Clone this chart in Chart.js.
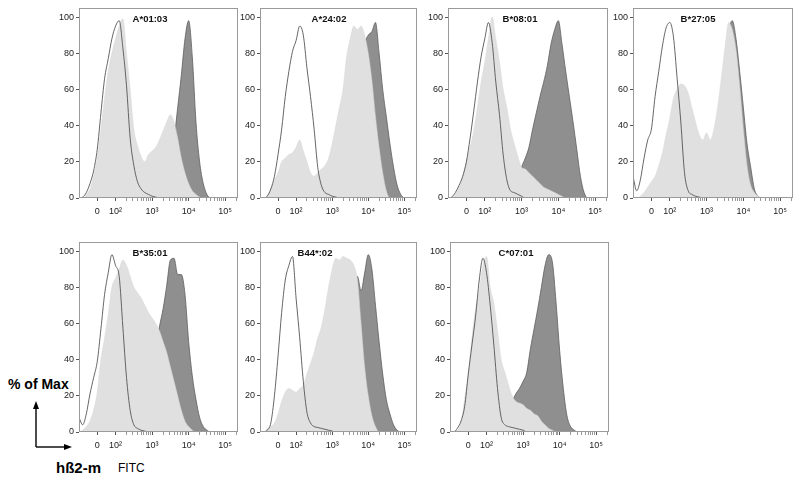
<!DOCTYPE html>
<html>
<head>
<meta charset="utf-8">
<script src="https://cdn.jsdelivr.net/npm/chart.js@4.4.3/dist/chart.umd.min.js"></script>
<style>
  body { margin: 0; background: #fff; width: 800px; height: 481px; overflow: hidden; position: relative;
         font-family: Arial, "Liberation Sans", sans-serif; }
  canvas { position: absolute; }
  .ttl { position: absolute; font-weight: bold; font-size: 9.5px; color: #111; transform: translate(-50%, -50%); white-space: nowrap; }
  .lbl { position: absolute; white-space: nowrap; color: #000; }
</style>
</head>
<body>
<div class="lbl" style="left:8px;top:375px;font-size:14px;font-weight:bold;line-height:18px;">% of Max</div>
<svg style="position:absolute;left:0;top:395px" width="90" height="60">
  <line x1="36" y1="52" x2="36" y2="12" stroke="#000" stroke-width="1.4"/>
  <polygon points="36,6 33,14 39,14" fill="#000"/>
  <line x1="36" y1="52" x2="66" y2="52" stroke="#000" stroke-width="1.4"/>
  <polygon points="72,52 64,49 64,55" fill="#000"/>
</svg>
<div class="lbl" style="left:56px;top:459px;font-size:15px;font-weight:bold;line-height:18px;">hß2-m</div>
<div class="lbl" style="left:118px;top:461px;font-size:12px;line-height:15px;">FITC</div>

<script>
// x positions in display decades (10^k sits at k, "0" sits at 1.5)
const xs = [1.0,1.1,1.2,1.3,1.4,1.5,1.6,1.7,1.8,1.9, 2.0,2.1,2.2,2.3,2.4,2.5,2.6,2.7,2.8,2.9,
            3.0,3.1,3.2,3.3,3.4,3.5,3.6,3.7,3.8,3.9, 4.0,4.1,4.2,4.3,4.4,4.5,4.6,4.7,4.8,4.9,
            5.0,5.1,5.2,5.3];

const panelNames = ['A*01:03', 'A*24:02', 'B*08:01', 'B*27:05', 'B*35:01', 'B44*:02', 'C*07:01'];

const xTickVals = [1.5, 2, 3, 4, 5];
const xTickLabels = ['0', '10²', '10³', '10⁴', '10⁵'];
const yTickVals = [0, 20, 40, 60, 80, 100];

// open outline histogram (control)
const ctrlA0103 = [0,0.5,3,8,15,27,47,66,77,88, 95,98,83,62,33,18,9,5,3,2, 1,0.5,0,0,0,0,0,0,0,0, 0,0,0,0,0,0,0,0,0,0, 0,0,0,0];
const ctrlA2402 = [0,0,1,5,12,24,38,56,70,81, 87,95,90,72,56,38,17,7,3,2, 1,0.5,0,0,0,0,0,0,0,0, 0,0,0,0,0,0,0,0,0,0, 0,0,0,0];
const ctrlB0801 = [0,0.5,3,7,12,20,33,48,64,78, 88,97,86,64,46,24,10,4,3,2, 1,0,0,0,0,0,0,0,0,0, 0,0,0,0,0,0,0,0,0,0, 0,0,0,0];
const ctrlB2705 = [12,4,10,22,32,38,56,70,84,94, 97,89,66,42,14,4,2,1,0.5,0, 0,0,0,0,0,0,0,0,0,0, 0,0,0,0,0,0,0,0,0,0, 0,0,0,0];
const ctrlB3501 = [8,4,10,21,30,39,57,76,88,98, 92,86,58,30,12,4,2,1,0.5,0, 0,0,0,0,0,0,0,0,0,0, 0,0,0,0,0,0,0,0,0,0, 0,0,0,0];
const ctrlB4402 = [0,0,1,5,20,42,66,84,92,97, 74,52,28,11,5,3,2.5,2,1.5,1, 0.5,0,0,0,0,0,0,0,0,0, 0,0,0,0,0,0,0,0,0,0, 0,0,0,0];
const ctrlC0701 = [0,0,2,6,14,32,48,64,84,96, 88,70,48,24,8,4,3,2.5,2,1.5, 1,0,0,0,0,0,0,0,0,0, 0,0,0,0,0,0,0,0,0,0, 0,0,0,0];

// light grey filled histogram
const lightA0103 = [0,0,2,5,12,22,38,55,70,80, 88,95,99,80,60,38,29,23,20,24, 26,28,32,37,42,46,42,33,22,14, 8,4,2,0.5,0,0,0,0,0,0, 0,0,0,0];
const lightA2402 = [0,0,1,5,10,14,20,22,24,25, 28,32,26,20,14,12,14,16,18,22, 30,40,50,60,78,88,95,93,95,90, 80,65,45,28,14,4,0,0,0,0, 0,0,0,0];
const lightB0801 = [0,0,2,6,12,20,28,37,50,64, 75,88,100,88,75,60,50,38,30,23, 17,16,14,12,10,8,6,5,4,3, 2,1,0,0,0,0,0,0,0,0, 0,0,0,0];
const lightB2705 = [0,0,1,3,6,9,12,18,25,35, 44,55,60,63,62,58,50,42,35,32, 36,32,38,50,66,83,97,93,82,62, 38,18,7,3,1,0,0,0,0,0, 0,0,0,0];
const lightB3501 = [0,1,3,6,12,22,40,52,65,80, 85,90,95,92,86,80,77,74,70,66, 63,60,56,50,44,36,28,20,12,6, 3,1,0,0,0,0,0,0,0,0, 0,0,0,0];
const lightB4402 = [0,0,2,3,5,10,17,22,24,23, 22,24,26,32,38,44,52,58,68,80, 90,96,95,97,96,95,92,84,60,36, 20,9,3,0,0,0,0,0,0,0, 0,0,0,0];
const lightC0701 = [0,0,1,5,18,32,52,68,78,92, 97,80,71,56,40,33,26,20,17,16, 15,13,12,10,9,6,4,2,1,0, 0,0,0,0,0,0,0,0,0,0, 0,0,0,0];

// dark grey filled histogram
const darkA0103 = [0,0,0,0,0,0,0,0,0,0, 0,0,0,0,0,0,0,0,0,0, 0,0,0,3,8,20,32,50,68,88, 98,78,42,20,8,2,0,0,0,0, 0,0,0,0];
const darkA2402 = [0,0,0,0,0,0,0,0,0,0, 0,0,0,0,0,0,0,0,0,0, 0,0,0,0,0,0,30,50,70,85, 90,92,97,80,60,45,30,17,7,2, 0,0,0,0];
const darkB0801 = [0,0,0,0,0,0,0,0,0,0, 0,0,0,0,0,0,0,2,5,9, 17,22,28,38,47,56,64,73,85,93, 98,85,70,56,42,27,12,3,0,0, 0,0,0,0];
const darkB2705 = [0,0,0,0,0,0,0,0,0,0, 0,0,0,0,0,0,0,0,0,0, 10,15,20,30,50,75,92,98,88,70, 50,30,17,5,1,0,0,0,0,0, 0,0,0,0];
const darkB3501 = [0,0,0,0,0,0,0,0,0,0, 0,0,0,0,0,0,0,0,10,20, 30,45,58,68,81,95,96,87,87,76, 50,31,18,8,3,1,0,0,0,0, 0,0,0,0];
const darkB4402 = [0,0,0,0,0,0,0,0,0,0, 0,0,0,0,0,0,0,0,0,0, 0,0,0,20,40,60,75,86,78,88, 98,90,70,50,32,18,10,4,1,0, 0,0,0,0];
const darkC0701 = [0,0,0,0,0,0,0,0,0,0, 0,0,0,0,0,0,5,16,21,24, 28,33,46,57,68,80,92,98,94,72, 45,24,9,3,1,0,0,0,0,0, 0,0,0,0];

const ctrlSeries = [ctrlA0103, ctrlA2402, ctrlB0801, ctrlB2705, ctrlB3501, ctrlB4402, ctrlC0701];
const lightSeries = [lightA0103, lightA2402, lightB0801, lightB2705, lightB3501, lightB4402, lightC0701];
const darkSeries = [darkA0103, darkA2402, darkB0801, darkB2705, darkB3501, darkB4402, darkC0701];

// plot box of each panel on the page (l, r, t, b) and title centre x
const boxes = [
  { l: 79,  r: 238, t: 8,   b: 198, tx: 150 },
  { l: 260, r: 417, t: 8,   b: 198, tx: 329 },
  { l: 448, r: 608, t: 8,   b: 198, tx: 520 },
  { l: 633, r: 793, t: 8,   b: 198, tx: 698 },
  { l: 79,  r: 238, t: 242, b: 432, tx: 150 },
  { l: 260, r: 417, t: 242, b: 432, tx: 315 },
  { l: 450, r: 609, t: 242, b: 432, tx: 516 }
];

Chart.defaults.font.family = 'Arial, "Liberation Sans", "DejaVu Sans", sans-serif';

const minorTicks = [];
for (let k = 2; k <= 4; k++) {
    for (let m = 2; m <= 9; m++) minorTicks.push(k + Math.log10(m));
}
minorTicks.push(5 + Math.log10(2));
const allXTicks = xTickVals.concat(minorTicks).sort((a, b) => a - b);

const framePlugin = {
    id: 'frame',
    afterDatasetsDraw(chart) {
        const { ctx, chartArea: a } = chart;
        ctx.save();
        ctx.strokeStyle = '#9a9a9a';
        ctx.lineWidth = 1;
        ctx.strokeRect(a.left + 0.5, a.top + 0.5, a.right - a.left - 1, a.bottom - a.top - 1);
        ctx.restore();
    }
};

function pts(arr) {
    return xs.map((x, i) => ({ x: x, y: arr[i] }));
}

boxes.forEach((b, i) => {
    const cv = document.createElement('canvas');
    cv.width = b.r - b.l + 36;
    cv.height = b.b - b.t + 36;
    cv.style.left = (b.l - 30) + 'px';
    cv.style.top = (b.t - 10) + 'px';
    document.body.appendChild(cv);

    const ttl = document.createElement('div');
    ttl.className = 'ttl';
    ttl.textContent = panelNames[i];
    ttl.style.left = b.tx + 'px';
    ttl.style.top = (b.t + 10) + 'px';
    document.body.appendChild(ttl);

    new Chart(cv, {
        type: 'line',
        data: {
            datasets: [
                { data: pts(ctrlSeries[i]), borderColor: '#555', borderWidth: 0.9, fill: false,
                  pointRadius: 0, cubicInterpolationMode: 'monotone' },
                { data: pts(lightSeries[i]), borderColor: '#d6d6d6', borderWidth: 0.5, backgroundColor: '#e0e0e0',
                  fill: 'origin', pointRadius: 0, cubicInterpolationMode: 'monotone' },
                { data: pts(darkSeries[i]), borderColor: '#5e5e5e', borderWidth: 0.8, backgroundColor: '#8f8f8f',
                  fill: 'origin', pointRadius: 0, cubicInterpolationMode: 'monotone' }
            ]
        },
        options: {
            responsive: false,
            animation: false,
            events: [],
            layout: { padding: { top: 10, right: 6, left: 0, bottom: 0 } },
            plugins: { legend: { display: false }, tooltip: { enabled: false } },
            scales: {
                x: {
                    type: 'linear', min: 1.0, max: 5.35,
                    afterFit: (s) => { s.height = 26; },
                    afterBuildTicks: (s) => { s.ticks = allXTicks.map(v => ({ value: v })); },
                    ticks: {
                        autoSkip: false, maxRotation: 0, padding: 5, color: '#222', font: { size: 9 },
                        callback: (v) => { const k = xTickVals.indexOf(v); return k >= 0 ? xTickLabels[k] : ''; }
                    },
                    grid: { drawOnChartArea: false, drawTicks: true, tickLength: 3,
                            tickColor: (c) => xTickVals.includes(c.tick.value) ? '#555' : '#999' },
                    border: { display: false }
                },
                y: {
                    min: 0, max: 105,
                    afterFit: (s) => { s.width = 30; },
                    afterBuildTicks: (s) => { s.ticks = yTickVals.map(v => ({ value: v })); },
                    ticks: { padding: 2, color: '#222', font: { size: 9 } },
                    grid: { drawOnChartArea: false, drawTicks: true, tickLength: 3, tickColor: '#555' },
                    border: { display: false }
                }
            }
        },
        plugins: [framePlugin]
    });
});
</script>
</body>
</html>
